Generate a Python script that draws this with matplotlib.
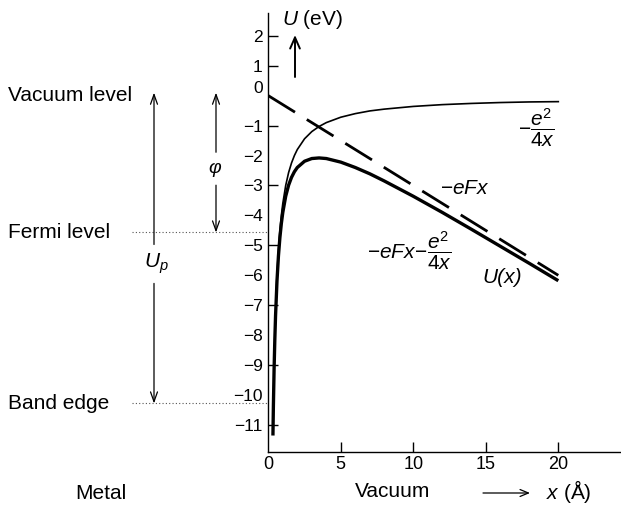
import matplotlib
matplotlib.use("Agg")
import matplotlib.pyplot as plt
import matplotlib.transforms as mtransforms

# ---------------- data ----------------
x_total = [0.32, 0.35, 0.4, 0.45, 0.5, 0.6, 0.7, 0.8, 0.9, 1.0, 1.2, 1.4, 1.6, 1.8,
           2.0, 2.5, 3.0, 3.5, 4.0, 5.0, 6.0, 7.0, 8.0, 10, 12, 14, 16, 18, 20]
u_total = [-11.35, -10.39, -9.12, -8.14, -7.35, -6.18, -5.35, -4.74, -4.27, -3.90,
           -3.36, -2.99, -2.73, -2.54, -2.40, -2.19, -2.10, -2.08, -2.10, -2.22,
           -2.40, -2.61, -2.85, -3.36, -3.90, -4.46, -5.03, -5.60, -6.18]

x_image = [0.55, 0.6, 0.7, 0.8, 0.9, 1.0, 1.2, 1.4, 1.6, 1.8, 2.0, 2.5, 3.0, 3.5,
           4.0, 5.0, 6.0, 7.0, 8.0, 10, 12, 14, 16, 18, 20]
u_image = [-6.55, -6.00, -5.14, -4.50, -4.00, -3.60, -3.00, -2.57, -2.25, -2.00,
           -1.80, -1.44, -1.20, -1.03, -0.90, -0.72, -0.60, -0.51, -0.45, -0.36,
           -0.30, -0.26, -0.23, -0.21, -0.20]

x_field = [0, 20]
u_field = [0.0, -6.0]

vacuum_level = 0.1
fermi_level = -4.57
band_edge = -10.28

y_ticks_marked = [2, 1, -1, -3, -5, -7, -9, -11]
y_ticks_plain = [0, -2, -4, -6, -8, -10]
x_ticks = [5, 10, 15, 20]

# ---------------- style ----------------
plt.rcParams['font.family'] = ['Liberation Sans', 'DejaVu Sans']
plt.rcParams['mathtext.fontset'] = 'custom'
plt.rcParams['mathtext.rm'] = 'Liberation Sans'
plt.rcParams['mathtext.it'] = 'Liberation Sans:italic'
plt.rcParams['mathtext.bf'] = 'Liberation Sans:bold'

W, H = 621, 511
fig = plt.figure(figsize=(W / 100, H / 100), dpi=100)
x0px, ybotpx, ytoppx = 268.3, 452, 13
ax = fig.add_axes([x0px / W, 1 - ybotpx / H, 1 - x0px / W, (ybotpx - ytoppx) / H])
ax.set_xlim(0, (W - x0px) / 14.5)
ax.set_ylim(-11.9, 2.76)

for s in ('top', 'right'):
    ax.spines[s].set_visible(False)
for s in ('left', 'bottom'):
    ax.spines[s].set_linewidth(1.0)

# curves
ax.plot(x_total, u_total, color='black', lw=2.4, solid_capstyle='butt', clip_on=False)
ax.plot(x_image, u_image, color='black', lw=1.2, clip_on=False)
ax.plot(x_field, u_field, color='black', lw=2.0, dashes=(11.3, 5.0), dash_capstyle='butt')

# ticks
yt = sorted(y_ticks_marked + y_ticks_plain, reverse=True)
ax.set_yticks(yt)
ax.set_yticklabels([str(v).replace('-', '\u2212') for v in yt], fontsize=12.5)
ax.tick_params(axis='y', direction='in', length=7.5, width=1.0, pad=4)
for t, v in zip(ax.yaxis.get_major_ticks(), yt):
    if v in y_ticks_plain:
        t.tick1line.set_visible(False)
    if v == 0:
        t.label1.set_transform(t.label1.get_transform() +
                               mtransforms.ScaledTranslation(0, 6 / 72, fig.dpi_scale_trans))

ax.set_xticks([0] + x_ticks)
ax.set_xticklabels(['0'] + [str(v) for v in x_ticks], fontsize=13)
ax.tick_params(axis='x', direction='in', length=7.5, width=1.0, pad=3)
ax.xaxis.get_major_ticks()[0].tick1line.set_visible(False)

# level lines (dotted) outside the axes
def dx(px):
    return (px - x0px) / 14.5

for lev in (fermi_level, band_edge):
    ax.plot([dx(132), 0], [lev, lev], color='#555555', lw=0.8,
            linestyle=(0, (1, 2)), clip_on=False)

arrow = dict(arrowstyle='->,head_length=0.7,head_width=0.25', lw=0.9, color='black',
             shrinkA=0, shrinkB=0)
# U_p arrows
ax.annotate('', xy=(dx(154), vacuum_level), xytext=(dx(154), -4.97),
            arrowprops=arrow, annotation_clip=False)
ax.annotate('', xy=(dx(154), band_edge), xytext=(dx(154), -6.27),
            arrowprops=arrow, annotation_clip=False)
ax.text(dx(156), -5.6, '$U_p$', fontsize=15, ha='center', va='center', clip_on=False)
# phi arrows
ax.annotate('', xy=(dx(216), vacuum_level), xytext=(dx(216), -1.89),
            arrowprops=arrow, annotation_clip=False)
ax.annotate('', xy=(dx(216), fermi_level), xytext=(dx(216), -2.99),
            arrowprops=arrow, annotation_clip=False)
ax.text(dx(215), -2.42, '\u03c6', fontsize=14, style='italic',
        ha='center', va='center', clip_on=False)

# left labels
trans = mtransforms.blended_transform_factory(fig.transFigure, ax.transData)
fig.text(8 / W, 0.0, 'Vacuum level', transform=trans, fontsize=15, va='center', ha='left')
fig.text(8 / W, fermi_level, 'Fermi level', transform=trans, fontsize=15, va='center', ha='left')
fig.text(8 / W, band_edge, 'Band edge', transform=trans, fontsize=15, va='center', ha='left')

# curve labels
ax.text(dx(555), -1.09, r'$-\dfrac{e^2}{4x}$', fontsize=15, ha='right', va='center')
ax.text(dx(465), -3.11, r'$-eFx$', fontsize=15, ha='center', va='center')
ax.text(dx(452), -5.17, r'$-eFx\!-\!\dfrac{e^2}{4x}$', fontsize=15, ha='right', va='center')
ax.text(dx(502), -6.07, 'U(x)', fontsize=15, style='italic', ha='center', va='center')

# axis titles
fig.text(282 / W, 1 - 19 / H, '$U$ (eV)', fontsize=15, ha='left', va='center')
ax.annotate('', xy=(295, H - 35), xytext=(295, H - 77), xycoords='figure pixels',
            textcoords='figure pixels',
            arrowprops=dict(arrowstyle='->,head_length=0.8,head_width=0.35', lw=1.4,
                            color='black', shrinkA=0, shrinkB=0))
fig.text(75 / W, 1 - 493 / H, 'Metal', fontsize=15, ha='left', va='center')
fig.text(392.5 / W, 1 - 491 / H, 'Vacuum', fontsize=15, ha='center', va='center')
ax.annotate('', xy=(530, H - 493), xytext=(483, H - 493), xycoords='figure pixels',
            textcoords='figure pixels',
            arrowprops=dict(arrowstyle='->,head_length=0.6,head_width=0.25', lw=0.9,
                            color='black', shrinkA=0, shrinkB=0))
fig.text(569 / W, 1 - 491 / H, '$x$ (Å)', fontsize=15, ha='center', va='center')

fig.savefig('out.png', dpi=100)
